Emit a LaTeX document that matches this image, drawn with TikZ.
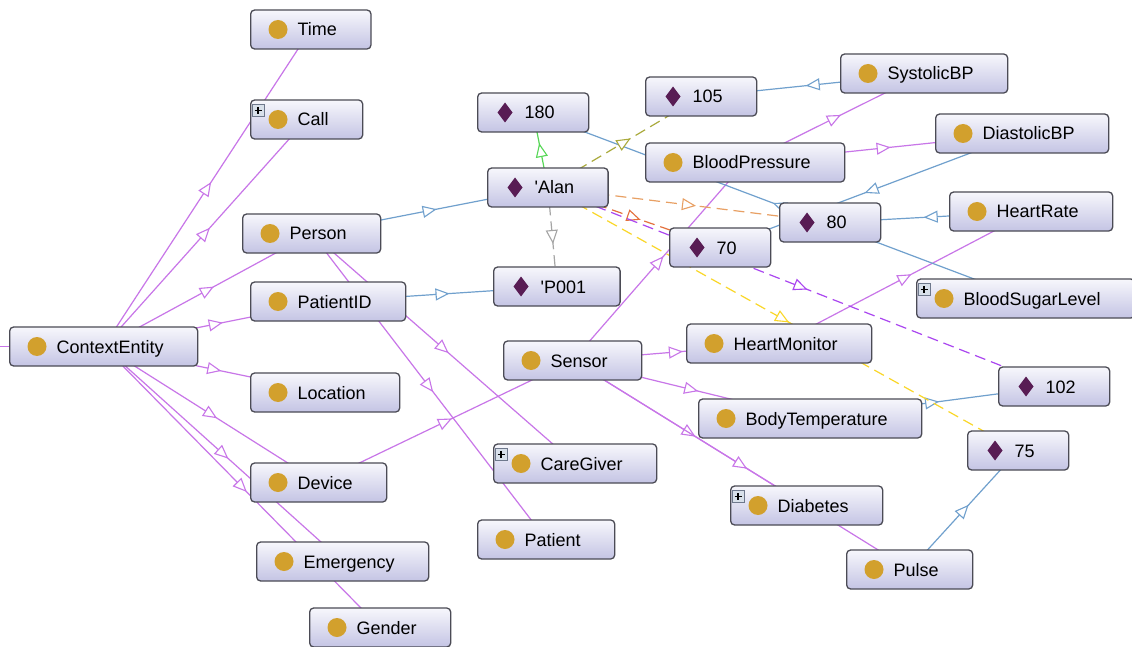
\documentclass[tikz,border=0pt]{standalone}
\usepackage{fontspec}
\setmainfont{Liberation Sans}[Ligatures=TeXOff]
\usetikzlibrary{arrows.meta,decorations.markings,backgrounds}

\definecolor{boxline}{RGB}{75,75,85}
\definecolor{boxtop}{RGB}{247,247,252}
\definecolor{boxbot}{RGB}{196,196,228}
\definecolor{dotcol}{RGB}{210,160,45}
\definecolor{diacol}{RGB}{88,28,84}
\definecolor{isacol}{RGB}{200,118,232}
\definecolor{indcol}{RGB}{112,160,205}
\definecolor{pgreen}{RGB}{85,215,85}
\definecolor{polive}{RGB}{170,170,60}
\definecolor{porange}{RGB}{232,160,100}
\definecolor{pred}{RGB}{228,112,60}
\definecolor{ppurple}{RGB}{170,70,240}
\definecolor{pyellow}{RGB}{250,215,40}
\definecolor{pgray}{RGB}{165,165,165}

\tikzset{
  cls/.style={draw=boxline, line width=1.3pt, rounded corners=4pt,
    top color=boxtop, bottom color=boxbot, anchor=west,
    minimum height=39pt, inner xsep=0pt, text height=13pt, text depth=0pt,
    font=\fontsize{18}{20}\selectfont,
    execute at begin node={\hspace*{47pt}},
    execute at end node={\hspace*{34pt}}},
  midtip/.style={postaction=decorate, decoration={markings,
    mark=at position 0.5 with {\pgftransformxshift{7pt}%
      \arrow{Triangle[fill=white,length=14pt,width=12pt,line width=1.1pt]}}}},
  isa/.style={isacol, line width=1.2pt, midtip},
  ind/.style={indcol, line width=1.2pt, midtip},
  prop/.style={#1, line width=1.2pt, midtip},
  plusbox/.style={draw={rgb,255:red,110;green,120;blue,140}, fill={rgb,255:red,216;green,224;blue,234}, line width=0.8pt}
}

\begin{document}
\begin{tikzpicture}[x=1pt,y=-1pt]
    \useasboundingbox (0,0) rectangle (1132,647);

    % 类节点
    \node[cls] (time) at (250,29.5) {Time};
    \node[cls] (call) at (250,119.5) {Call};
    \node[cls] (person) at (242,233.5) {Person};
    \node[cls] (pid) at (250,301.5) {PatientID};
    \node[cls] (ctx) at (9,346.5) {ContextEntity};
    \node[cls] (loc) at (250,392.5) {Location};
    \node[cls] (device) at (250,482.5) {Device};
    \node[cls] (emerg) at (256,561.5) {Emergency};
    \node[cls] (gender) at (309,627.5) {Gender};
    \node[cls] (bp) at (645,162.5) {BloodPressure};
    \node[cls] (sbp) at (840,73.5) {SystolicBP};
    \node[cls] (dbp) at (935,133.5) {DiastolicBP};
    \node[cls] (hr) at (949,211.5) {HeartRate};
    \node[cls] (bsl) at (916,298.5) {BloodSugarLevel};
    \node[cls] (sensor) at (503,360.5) {Sensor};
    \node[cls] (hm) at (686,343.5) {HeartMonitor};
    \node[cls] (bt) at (698,418.5) {BodyTemperature};
    \node[cls] (cg) at (493,463.5) {CareGiver};
    \node[cls] (diab) at (730,505.5) {Diabetes};
    \node[cls] (patient) at (477,539.5) {Patient};
    \node[cls] (pulse) at (846,569.5) {Pulse};

    % 个体节点
    \node[cls] (alan) at (487,187.5) {'Alan};
    \node[cls] (p001) at (493,286.5) {'P001};
    \node[cls] (v180) at (477,112.5) {180};
    \node[cls] (v105) at (645,96.5) {105};
    \node[cls] (v70) at (669,247.5) {70};
    \node[cls] (v80) at (779,222.5) {80};
    \node[cls] (v102) at (998,386.5) {102};
    \node[cls] (v75) at (967,450.5) {75};

    \coordinate (thing) at (-30,346.5);

    % 连线放在背景层, 从中心到中心
    \begin{scope}[on background layer]
        \fill[white] (0,0) rectangle (1132,647);
        \draw[isacol, line width=1.2pt] (thing) -- (ctx.center);
        \foreach \a/\b in {ctx/time, ctx/call, ctx/person, ctx/pid, ctx/loc,
            ctx/device, ctx/emerg, ctx/gender, person/cg, person/patient,
            device/sensor, sensor/hm, sensor/bt, sensor/diab, sensor/pulse,
            sensor/bp, bp/sbp, bp/dbp, hm/hr}
            \draw[isa] (\a.center) -- (\b.center);
        \foreach \a/\b in {person/alan, pid/p001, sbp/v105, dbp/v70, hr/v80,
            bsl/v180, pulse/v75, bt/v102}
            \draw[ind] (\a.center) -- (\b.center);
        \draw[prop=pgreen] (alan.center) -- (v180.center);
        \foreach \b/\c in {v105/polive, v80/porange, v70/pred, v102/ppurple,
            v75/pyellow, p001/pgray}
            \draw[prop=\c, dash pattern=on 11pt off 6pt] (alan.center) -- (\b.center);
    \end{scope}

    % 图标
    \foreach \n in {time, call, person, pid, ctx, loc, device, emerg, gender,
        bp, sbp, dbp, hr, bsl, sensor, hm, bt, cg, diab, patient, pulse}
        \fill[dotcol] ([xshift=28pt]\n.west) circle (9.5pt);
    \foreach \n in {alan, p001, v180, v105, v70, v80, v102, v75}
        \fill[diacol] ([xshift=28pt]\n.west) +(0,-10) -- +(7.5,0) -- +(0,10) -- +(-7.5,0) -- cycle;
    \foreach \n in {call, cg, diab, bsl}{
        \draw[plusbox] ([shift={(2,5)}]\n.north west) rectangle ([shift={(14,17)}]\n.north west);
        \draw[line width=1.3pt] ([shift={(4.5,11)}]\n.north west) -- ([shift={(11.5,11)}]\n.north west)
            ([shift={(8,7.5)}]\n.north west) -- ([shift={(8,14.5)}]\n.north west);
    }
\end{tikzpicture}
\end{document}
